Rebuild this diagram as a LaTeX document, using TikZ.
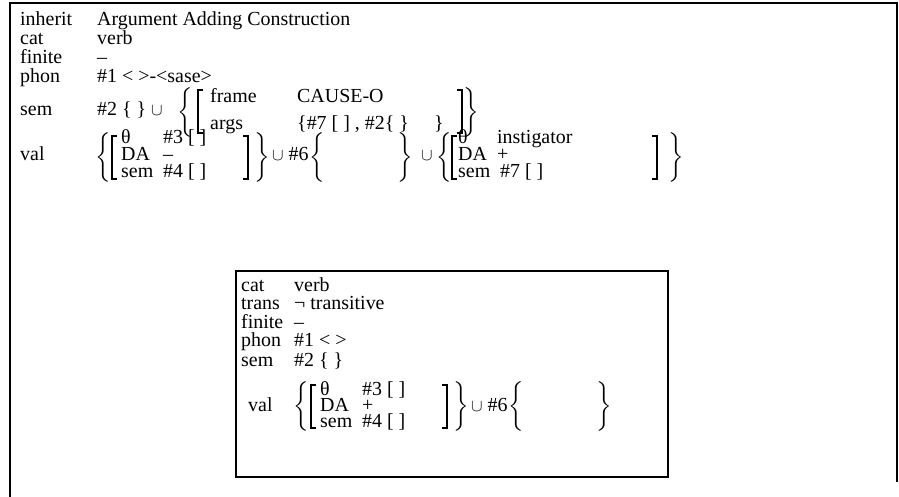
\documentclass[tikz,border=0pt]{standalone}
\usepackage{exscale}
\usepackage{fontspec}
\setmainfont{Liberation Serif}
\newcommand\lbr{\fontsize{20}{24}\selectfont$\left\{\vrule height 18.5bp depth 18.5bp width 0pt\right.$}
\newcommand\rbr{\fontsize{20}{24}\selectfont$\left.\vrule height 18.5bp depth 18.5bp width 0pt\right\}$}
\newcommand\cupsym{{\fontsize{17}{20}\selectfont$\cup$}}
\begin{document}
\begin{tikzpicture}[x=1bp,y=-1bp,
  txt/.style={anchor=base west, inner sep=0pt, font=\fontsize{20}{24}\selectfont},
  brk/.style={anchor=center, inner sep=0pt},
  boxline/.style={line width=1.3bp},
  sq/.style={line width=1.2bp}]
\useasboundingbox (0,0) rectangle (899,497);
% outer frame (open at the bottom)
\draw[boxline] (10,497) -- (10,3) -- (897,3) -- (897,482);
% rows
\node[txt] (l1) at (20,26) {inherit};
\node[txt] (v1) at (97,26) {Argument Adding Construction};
\node[txt] (l2) at (20,45) {cat};
\node[txt] (v2) at (97,45) {verb};
\node[txt] (l3) at (20,64) {finite};
\node[txt] (v3) at (97,64) {–};
\node[txt] (l4) at (20,83) {phon};
\node[txt] (v4) at (97,83) {\#1 < >-<sase>};
% sem
\node[txt] (l5) at (20,116) {sem};
\node[txt] (v5) at (97,116) {\#2 \{ \} \cupsym};
\node[brk] (s1) at (186,112) {\lbr};
\draw[sq] (203,90) -- (198,90) -- (198,133) -- (203,133);
\node[txt] (f1) at (210,103) {frame};
\node[txt] (f2) at (297,103) {CAUSE-O};
\node[txt] (a1) at (210,130) {args};
\node[txt] (a2) at (297,130) {\{\#7 [ ] , \#2\{ \}};
\node[txt] (a3) at (434,130) {\}};
\draw[sq] (457,90) -- (462,90) -- (462,133) -- (457,133);
\node[brk] (s2) at (471,112) {\rbr};
% val
\node[txt] (l6) at (20,161) {val};
\node[brk] (o1) at (104,157) {\lbr};
\draw[sq] (117,136) -- (112,136) -- (112,179) -- (117,179);
\node[txt] (m1) at (121,144) {θ};
\node[txt] (m2) at (163,144) {\#3 [ ]};
\node[txt] (m3) at (121,161) {DA};
\node[txt] (m4) at (163,161) {–};
\node[txt] (m5) at (121,178) {sem};
\node[txt] (m6) at (163,178) {\#4 [ ]};
\draw[sq] (243,136) -- (248,136) -- (248,179) -- (243,179);
\node[brk] (o2) at (262,157) {\rbr};
\node[txt] (u1) at (272,161) {\cupsym\ \#6};
\node[brk] (o3) at (318,157) {\lbr};
\node[brk] (o4) at (405,157) {\rbr};
\node[txt] (u2) at (421,161) {\cupsym};
\node[brk] (o5) at (445,157) {\lbr};
\draw[sq] (457,136) -- (452,136) -- (452,179) -- (457,179);
\node[txt] (i1) at (458,144) {θ};
\node[txt] (i2) at (497,144) {instigator};
\node[txt] (i3) at (458,161) {DA};
\node[txt] (i4) at (497,161) {+};
\node[txt] (i5) at (458,178) {sem};
\node[txt] (i6) at (500,178) {\#7 [ ]};
\draw[sq] (652,136) -- (657,136) -- (657,179) -- (652,179);
\node[brk] (o6) at (676,157) {\rbr};
% inner box
\draw[boxline] (236,271) rectangle (668,477);
\node[txt] (b1) at (241,292) {cat};
\node[txt] (c1) at (294,292) {verb};
\node[txt] (b2) at (241,310) {trans};
\node[txt] (c2) at (294,310) {¬ transitive};
\node[txt] (b3) at (241,329) {finite};
\node[txt] (c3) at (294,329) {–};
\node[txt] (b4) at (241,347) {phon};
\node[txt] (c4) at (294,347) {\#1 < >};
\node[txt] (b5) at (241,366) {sem};
\node[txt] (c5) at (294,366) {\#2 \{ \}};
\node[txt] (b6) at (248,411) {val};
\node[brk] (p1) at (302,406) {\lbr};
\draw[sq] (316,385) -- (311,385) -- (311,428) -- (316,428);
\node[txt] (d1) at (320,395) {θ};
\node[txt] (d2) at (362,395) {\#3 [ ]};
\node[txt] (d3) at (320,411) {DA};
\node[txt] (d4) at (362,411) {+};
\node[txt] (d5) at (320,427) {sem};
\node[txt] (d6) at (362,427) {\#4 [ ]};
\draw[sq] (442,385) -- (447,385) -- (447,428) -- (442,428);
\node[brk] (p2) at (461,406) {\rbr};
\node[txt] (u3) at (471,411) {\cupsym\ \#6};
\node[brk] (p3) at (517,406) {\lbr};
\node[brk] (p4) at (604,406) {\rbr};
\end{tikzpicture}
\end{document}
